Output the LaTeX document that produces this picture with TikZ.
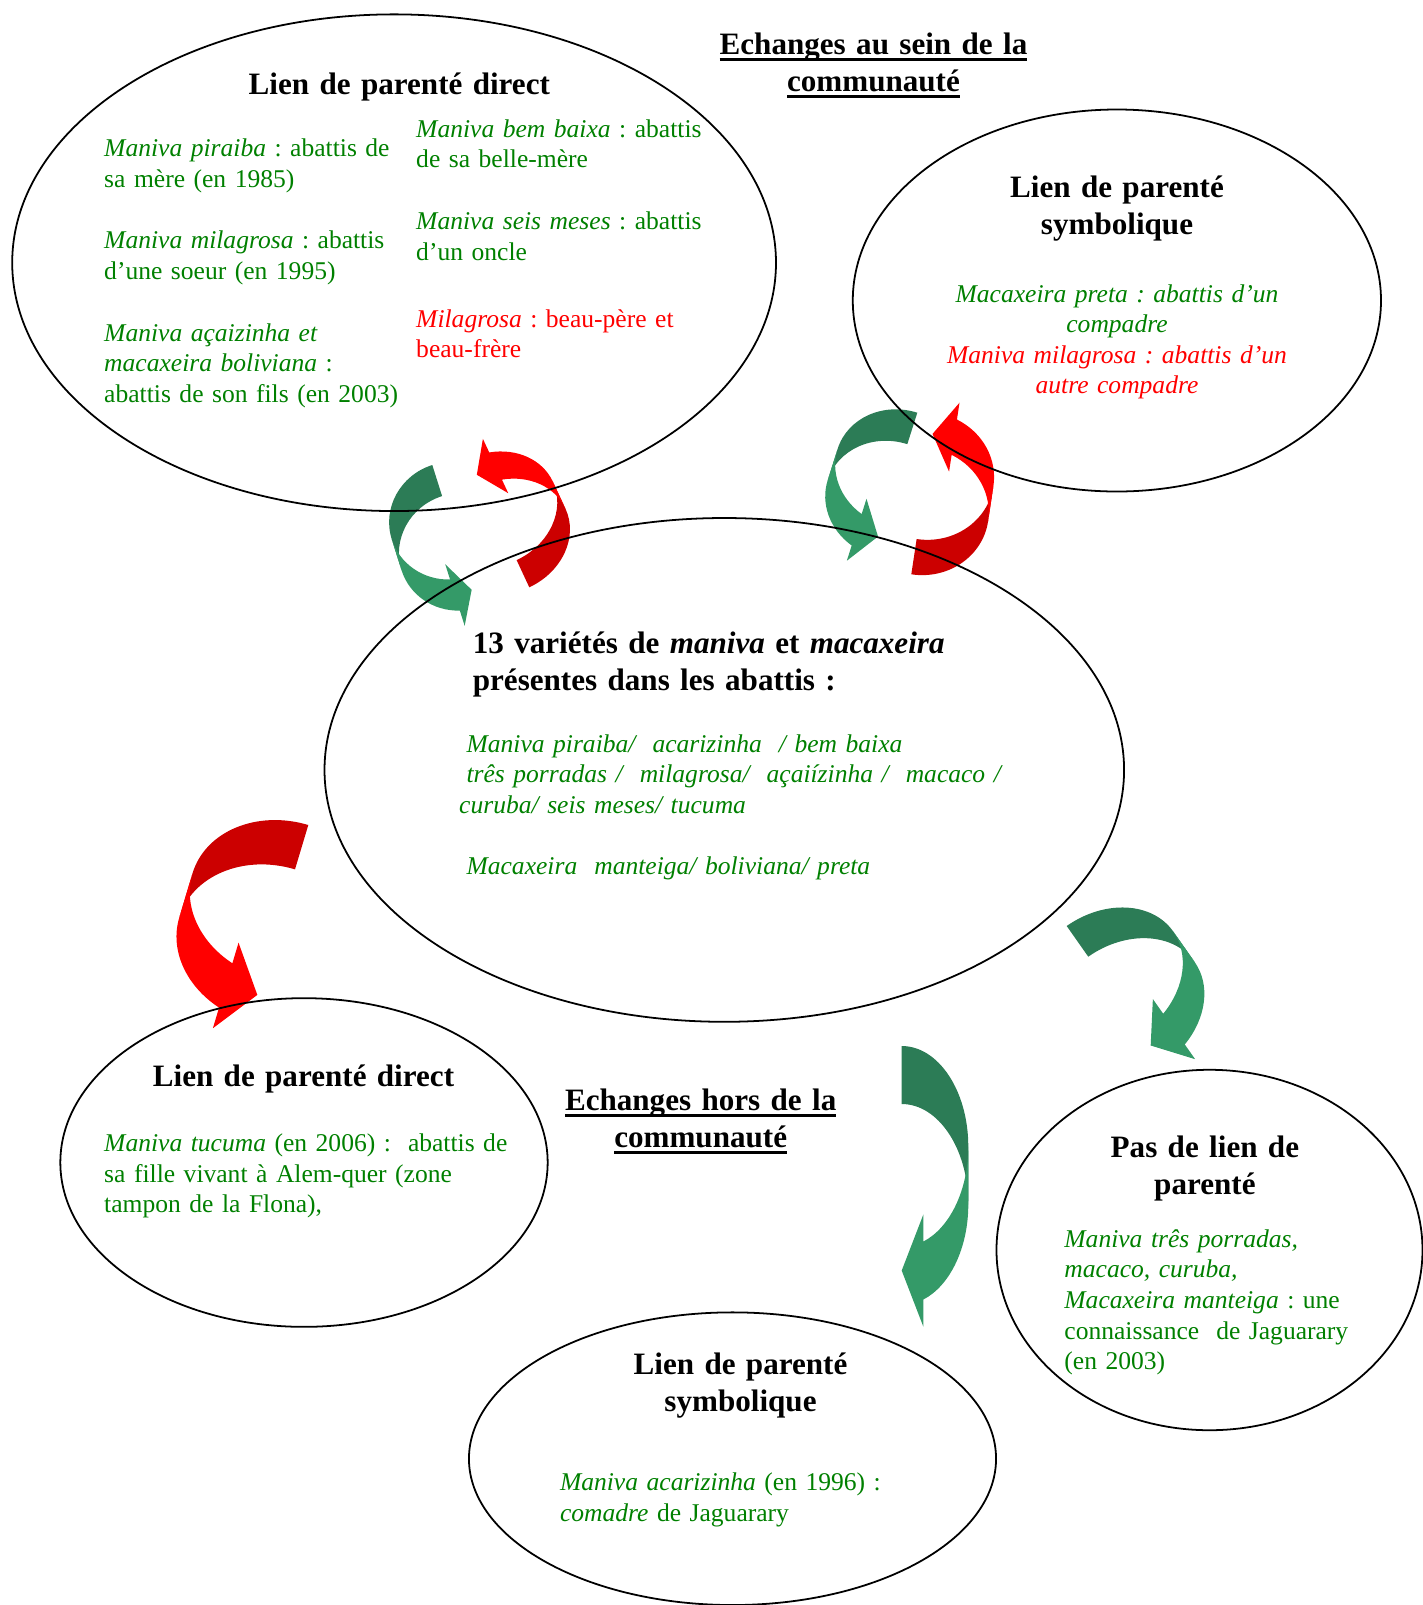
\documentclass[tikz,border=0pt]{standalone}
\usepackage{fontspec}
\setmainfont{Liberation Serif}
\usetikzlibrary{shapes.geometric}
\definecolor{leafgreen}{RGB}{0,128,0}
\definecolor{greenback}{RGB}{44,124,86}
\definecolor{greenfront}{RGB}{52,154,104}
\definecolor{redback}{RGB}{204,0,0}
\definecolor{redfront}{RGB}{255,0,0}
\newcommand{\bodyfont}{\fontsize{11.5}{13.8}\selectfont\frenchspacing}
\newcommand{\headfont}{\fontsize{14}{16.8}\selectfont\bfseries}
\newlength{\ulwidth}
\newcommand{\ulhead}[1]{\leavevmode\settowidth{\ulwidth}{#1}\rlap{\rule[-3.2pt]{\ulwidth}{1.4pt}}#1}
% curved ribbon arrow: placement, width, half height, thickness, head length, head overhang, colour
\newcommand{\ribbon}[7]{%
 \begin{scope}[#1]
 \pgfmathsetmacro{\rbdy}{#3*sqrt(1-(#5/#2)^2)}
 \pgfmathsetmacro{\rbang}{acos(-#5/#2)}
 \fill[#7back] (0,0) arc[start angle=-90,end angle=-180,x radius=#2,y radius=#3]
  -- ++(0,#4) arc[start angle=180,end angle=270,x radius=#2,y radius=#3] -- cycle;
 \fill[#7front] (-#2,{#3+#4}) arc[start angle=180,end angle=\rbang,x radius=#2,y radius=#3]
  -- ++(0,#6) -- (0,{#3+\rbdy+#4/2}) -- (-#5,{#3+\rbdy-#6})
  -- (-#5,{#3+\rbdy}) arc[start angle=\rbang,end angle=180,x radius=#2,y radius=#3] -- cycle;
 \end{scope}}
\tikzset{
 zone/.style={ellipse,draw,line width=.8pt,inner sep=0},
 heading/.style={anchor=base,align=center,text width=240pt,inner sep=0,font=\headfont},
 notes/.style={anchor=base west,align=left,text width=240pt,inner sep=0,font=\bodyfont,text=leafgreen},
 cnotes/.style={anchor=base,align=center,text width=240pt,inner sep=0,font=\bodyfont\itshape,text=leafgreen}
}
\begin{document}
\begin{tikzpicture}[x=.45pt,y=-.45pt]
\useasboundingbox (0,0) rectangle (1423,1605);
% arrows
\ribbon{shift={(432.3,465)},rotate=17.5}{61}{58.5}{32.6}{17.5}{16}{green}
\ribbon{shift={(529.3,587.3)},rotate=205}{66}{56}{30}{20.7}{15}{red}
\ribbon{shift={(917.3,412.7)},rotate=-17.6}{65}{58.5}{33}{22.4}{16}{green}
\ribbon{shift={(911.3,574.3)},rotate=171.4}{68}{63.8}{35.7}{22}{17}{red}
\ribbon{shift={(308.3,825)},rotate=-16.7}{97}{79.5}{46.3}{33}{21.5}{red}
\ribbon{shift={(1066.7,926)},rotate=35.1,xscale=-1}{84}{65.6}{37.5}{28.5}{18}{green}
\ribbon{shift={(901.7,1046)},xscale=-1}{66.6}{100.5}{58}{21.6}{27}{green}
% ellipses
\node[zone,minimum width=343.7pt,minimum height=223.5pt] (directin) at (394.1,262.7) {};
\node[zone,minimum width=237.7pt,minimum height=171.9pt] (symbin) at (1116.9,300.5) {};
\node[zone,minimum width=359.8pt,minimum height=226.7pt] (varietes) at (724.3,769.9) {};
\node[zone,minimum width=219.3pt,minimum height=147.9pt] (directout) at (304,1162.5) {};
\node[zone,minimum width=237.2pt,minimum height=131.7pt] (symbout) at (732.5,1458.7) {};
\node[zone,minimum width=191.7pt,minimum height=162.2pt] (nokin) at (1209.5,1250) {};
% community
\node[heading] (interne) at (873.5,54) {\ulhead{Echanges au sein de la}\\\ulhead{communauté}};
\node[heading] (dirtitle) at (399.3,94.5) {Lien de parenté direct};
\node[notes] (piraiba) at (103.8,156.5) {\textit{Maniva piraiba} : abattis de\\sa mère (en 1985)};
\node[notes] (soeur) at (103.8,248.5) {\textit{Maniva milagrosa} : abattis\\d’une soeur (en 1995)};
\node[notes] (fils) at (103.8,341) {\textit{Maniva açaizinha et}\\\textit{macaxeira boliviana} :\\abattis de son fils (en 2003)};
\node[notes] (bemb) at (415.8,137) {\textit{Maniva bem baixa} : abattis\\de sa belle-mère};
\node[notes] (oncle) at (415.8,229.5) {\textit{Maniva seis meses} : abattis\\d’un oncle};
\node[notes,text=red] (beaupere) at (415.8,327) {\textit{Milagrosa} : beau-père et\\beau-frère};
\node[heading] (symtitle) at (1117,197) {Lien de parenté\\symbolique};
\node[cnotes] (preta) at (1117,302) {Macaxeira preta : abattis d’un\\compadre};
\node[cnotes,text=red] (autre) at (1117,363) {Maniva milagrosa : abattis d’un\\autre compadre};
% varieties
\node[heading,anchor=base west,align=left] (vartitle) at (472.4,653.3) {13 variétés de \textit{maniva} et \textit{macaxeira}\\présentes dans les abattis :};
\node[notes,text width=300pt,font=\bodyfont\itshape] (liste) at (458.8,752.3) {\hspace*{3.3pt}Maniva piraiba/\ \ acarizinha\ \ / bem baixa\\\hspace*{3.3pt}três porradas /\ \ milagrosa/\ \ açaiízinha /\ \ macaco /\\curuba/ seis meses/ tucuma\\[13.8pt]\hspace*{3.3pt}Macaxeira\ \ manteiga/ boliviana/ preta};
% outside
\node[heading] (externe) at (700.7,1110) {\ulhead{Echanges hors de la}\\\ulhead{communauté}};
\node[heading] (dirtitle2) at (303.5,1086.5) {Lien de parenté direct};
\node[notes] (tucuma) at (103.8,1151.5) {\textit{Maniva tucuma} (en 2006) :\ \ abattis de\\sa fille vivant à Alem-quer (zone\\tampon de la Flona),};
\node[heading] (symtitle2) at (740.5,1374.5) {Lien de parenté\\symbolique};
\node[notes] (acarizinha) at (559.6,1490.5) {\textit{Maniva acarizinha} (en 1996) :\\\textit{comadre} de Jaguarary};
\node[heading] (nokintitle) at (1204.9,1157) {Pas de lien de\\parenté};
\node[notes] (porradas) at (1064,1247) {\textit{Maniva três porradas,}\\\textit{macaco, curuba,}\\\textit{Macaxeira manteiga} : une\\connaissance\ \ de Jaguarary\\(en 2003)};
\end{tikzpicture}
\end{document}
